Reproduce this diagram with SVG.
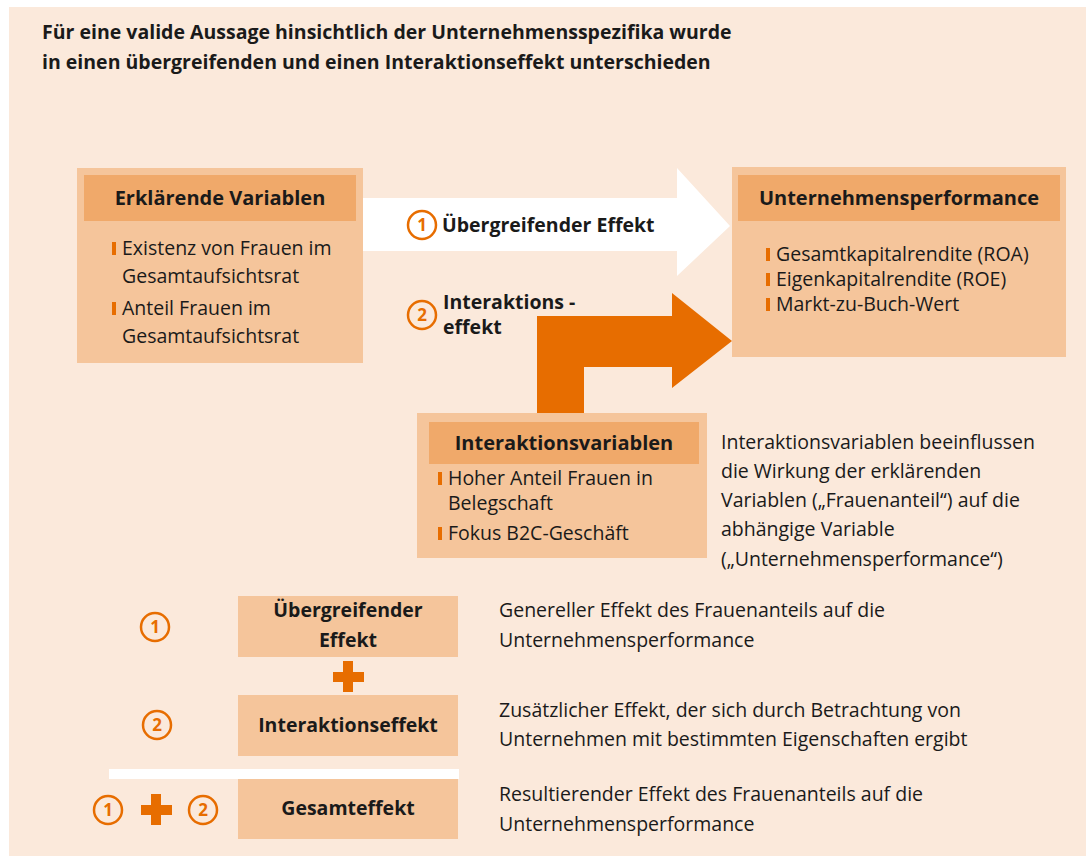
<svg xmlns="http://www.w3.org/2000/svg" width="1086" height="856" viewBox="0 0 1086 856">
<style>
text{font-family:"Open Sans","Noto Sans","Liberation Sans",sans-serif;fill:#1a1a1a;font-size:19.5px}
.b{font-weight:bold}
.h{font-weight:bold;font-size:20px;text-anchor:middle}
.c{text-anchor:middle}
.box{fill:#F5C59B}
.hdr{fill:#F0A96A}
.bar{fill:#E76D00}
.circ{fill:none;stroke:#E76D00;stroke-width:2.5}
.num{fill:#E76D00;font-weight:bold;font-size:17px;text-anchor:middle}
</style>
<rect x="0" y="0" width="1086" height="856" fill="#ffffff"/>
<rect x="9" y="7" width="1077" height="849" fill="#FBE9DB"/>
<g id="title">
<text class="b" x="42" y="39">Für eine valide Aussage hinsichtlich der Unternehmensspezifika wurde</text>
<text class="b" x="42" y="69">in einen übergreifenden und einen Interaktionseffekt unterschieden</text>
</g>
<g id="connectors">
<polygon points="363,198 677,198 677,168 730,226 677,276 677,251 363,251" fill="#ffffff"/>
<polygon points="537,413 537,316 672,316 672,293 732,341 672,388 672,367 584,367 584,413" fill="#E76D00"/>
<g id="label1">
<circle class="circ" cx="422" cy="225" r="14"/>
<text class="num" x="422" y="231">1</text>
<text class="b" x="442" y="232">Übergreifender Effekt</text>
</g>
<g id="label2">
<circle class="circ" cx="422" cy="315" r="14"/>
<text class="num" x="422" y="321">2</text>
<text class="b" x="443" y="309">Interaktions -</text>
<text class="b" x="443" y="334">effekt</text>
</g>
</g>
<g id="erklaerende">
<rect class="box" x="77" y="168" width="286" height="195"/>
<rect class="hdr" x="84" y="175" width="272" height="46"/>
<text class="h" x="220" y="205">Erklärende Variablen</text>
<rect class="bar" x="112" y="242" width="4" height="13"/>
<text x="122" y="255">Existenz von Frauen im</text>
<text x="122" y="283">Gesamtaufsichtsrat</text>
<rect class="bar" x="112" y="302" width="4" height="13"/>
<text x="122" y="315">Anteil Frauen im</text>
<text x="122" y="343">Gesamtaufsichtsrat</text>
</g>
<g id="performance">
<rect class="box" x="732" y="167" width="334" height="190"/>
<rect class="hdr" x="738" y="175" width="322" height="46"/>
<text class="h" x="899" y="205">Unternehmensperformance</text>
<rect class="bar" x="766" y="248" width="4" height="13"/>
<text x="776" y="261">Gesamtkapitalrendite (ROA)</text>
<rect class="bar" x="766" y="273" width="4" height="13"/>
<text x="776" y="286">Eigenkapitalrendite (ROE)</text>
<rect class="bar" x="766" y="298" width="4" height="13"/>
<text x="776" y="311">Markt-zu-Buch-Wert</text>
</g>
<g id="interaktionsvariablen">
<rect class="box" x="417" y="413" width="290" height="145"/>
<rect class="hdr" x="429" y="422" width="270" height="42"/>
<text class="h" x="564" y="450">Interaktionsvariablen</text>
<rect class="bar" x="438" y="472" width="4" height="13"/>
<text x="448" y="485">Hoher Anteil Frauen in</text>
<text x="448" y="510">Belegschaft</text>
<rect class="bar" x="438" y="527" width="4" height="13"/>
<text x="448" y="540">Fokus B2C-Geschäft</text>
</g>
<g id="note">
<text x="721" y="449">Interaktionsvariablen beeinflussen</text>
<text x="721" y="478">die Wirkung der erklärenden</text>
<text x="721" y="507">Variablen („Frauenanteil“) auf die</text>
<text x="721" y="536">abhängige Variable</text>
<text x="721" y="566">(„Unternehmensperformance“)</text>
</g>
<g id="row1">
<circle class="circ" cx="155" cy="627" r="14"/>
<text class="num" x="155" y="633">1</text>
<rect class="box" x="238" y="596" width="220" height="61"/>
<text class="b c" x="348" y="617">Übergreifender</text>
<text class="b c" x="348" y="647">Effekt</text>
<text x="499" y="617">Genereller Effekt des Frauenanteils auf die</text>
<text x="499" y="647">Unternehmensperformance</text>
</g>
<g id="plus1">
<rect class="bar" x="333" y="672" width="31" height="10"/>
<rect class="bar" x="343" y="661" width="10" height="31"/>
</g>
<g id="row2">
<circle class="circ" cx="157" cy="725" r="14"/>
<text class="num" x="157" y="731">2</text>
<rect class="box" x="238" y="695" width="220" height="61"/>
<text class="b c" x="348" y="732">Interaktionseffekt</text>
<text x="499" y="717">Zusätzlicher Effekt, der sich durch Betrachtung von</text>
<text x="499" y="746">Unternehmen mit bestimmten Eigenschaften ergibt</text>
</g>
<rect id="separator" x="109" y="769" width="350" height="10" fill="#ffffff"/>
<g id="row3">
<circle class="circ" cx="108" cy="810" r="14"/>
<text class="num" x="108" y="816">1</text>
<rect class="bar" x="141" y="805" width="31" height="10"/>
<rect class="bar" x="151" y="794" width="10" height="31"/>
<circle class="circ" cx="203" cy="810" r="14"/>
<text class="num" x="203" y="816">2</text>
<rect class="box" x="238" y="779" width="220" height="60"/>
<text class="b c" x="348" y="815">Gesamteffekt</text>
<text x="499" y="801">Resultierender Effekt des Frauenanteils auf die</text>
<text x="499" y="831">Unternehmensperformance</text>
</g>
</svg>
